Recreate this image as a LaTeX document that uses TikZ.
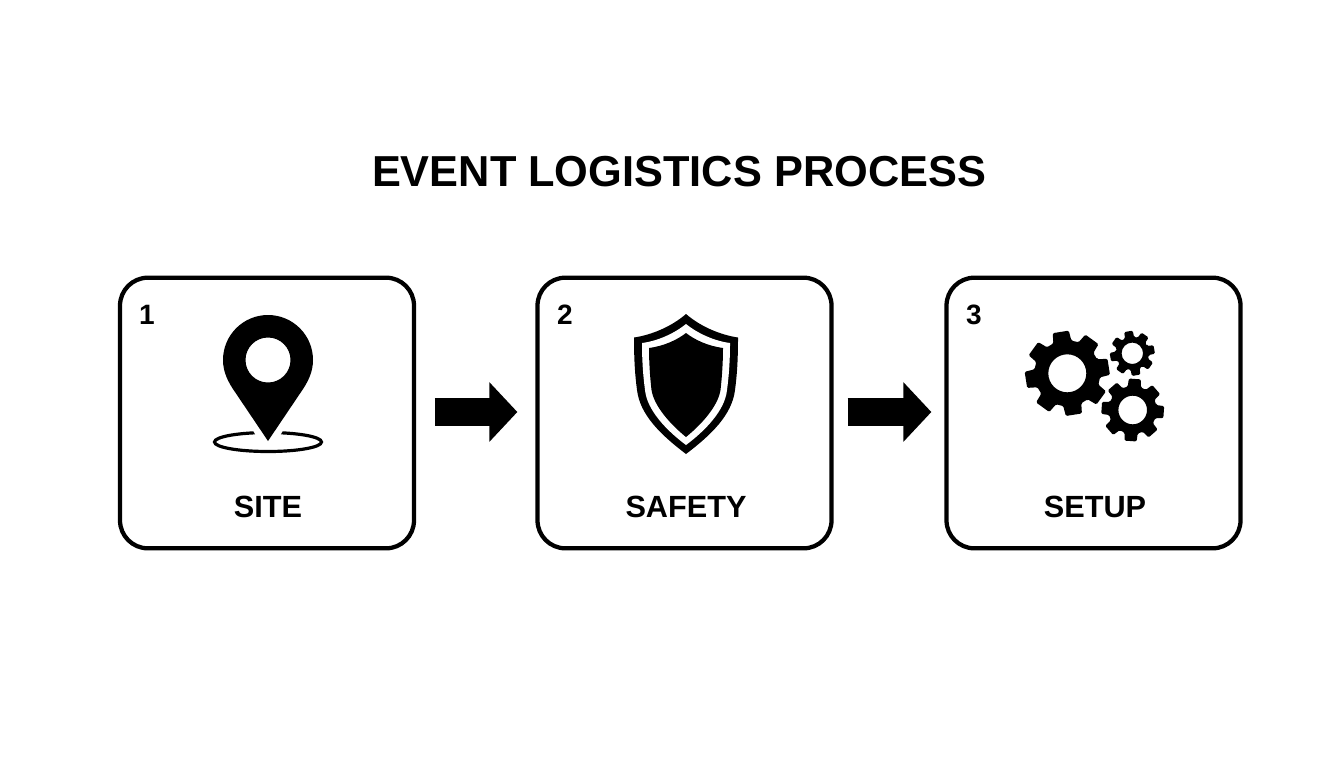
\documentclass[tikz,border=0pt]{standalone}
\usepackage{fontspec}
\setmainfont{Liberation Sans}
\usetikzlibrary{positioning,arrows.meta}
\tikzset{
  stepbox/.style={rectangle,draw,line width=3.2pt,rounded corners=21pt,inner sep=0pt,minimum width=220.5pt,minimum height=203pt},
  steplabel/.style={anchor=base,font=\bfseries\fontsize{23}{23}\selectfont},
  stepnum/.style={anchor=base,font=\bfseries\fontsize{21}{21}\selectfont},
  blockarrow/.style={-{Triangle[length=21pt,width=43.5pt]},line width=21pt}
}
\newcommand{\gearicon}[6]{%
  \begin{scope}[shift={(#1,#2)}]
    \fill[even odd rule,rounded corners=1pt] (#6-16:#4) foreach \a in {0,45,...,315} {
      -- (\a+#6-16:#4) -- (\a+#6-11:#3) -- (\a+#6+11:#3) -- (\a+#6+16:#4)
    } -- cycle (0,0) circle (#5);
  \end{scope}
}
\begin{document}
\begin{tikzpicture}[x=0.75pt,y=-0.75pt]
    \useasboundingbox (0,0) rectangle (1344,768);
    \node at (679, 186) [anchor=base,font=\bfseries\fontsize{32.5}{32.5}\selectfont] (title) {EVENT LOGISTICS PROCESS};

    \node at (267, 413) [stepbox] (site) {};
    \node at (684.5, 413) [stepbox] (safety) {};
    \node at (1093.5, 413) [stepbox] (setup) {};

    \node at (147, 324) [stepnum] (num1) {1};
    \node at (565, 324) [stepnum] (num2) {2};
    \node at (974, 324) [stepnum] (num3) {3};
    \node at (268, 517) [steplabel] (lab1) {SITE};
    \node at (686, 517) [steplabel] (lab2) {SAFETY};
    \node at (1095, 517) [steplabel] (lab3) {SETUP};

    \draw[blockarrow,shorten <=14pt,shorten >=13.5pt] ([yshift=.75pt]site.east) -- ([yshift=.75pt]safety.west);
    \draw[blockarrow,shorten <=10.5pt,shorten >=9.75pt] ([yshift=.75pt]safety.east) -- ([yshift=.75pt]setup.west);

    \draw[line width=2.4pt] (268,442) ellipse (53.5 and 9.5);
    \draw[white,line width=12pt] (268,441) -- (223,360);
    \draw[white,line width=12pt] (268,441) -- (313,360);
    \fill[even odd rule] (268,441) -- (235,392) .. controls (228,382) and (223,372) .. (223,360)
      arc[start angle=180,end angle=360,radius=45] .. controls (313,372) and (308,382) .. (301,392) -- cycle
      (268,360) circle (22.5);

    \fill (686,314) .. controls (701,327) and (721,335) .. (738,337.5) .. controls (738,360) and (737,375) .. (735,390)
      .. controls (732,415) and (711,435) .. (686,454) .. controls (661,435) and (640,415) .. (637,390)
      .. controls (635,375) and (634,360) .. (634,337.5) .. controls (651,335) and (671,327) .. (686,314) -- cycle;
    \fill[white] (686,324) .. controls (697,333) and (714,341) .. (730,343) .. controls (730,360) and (729,375) .. (727,390)
      .. controls (725,410) and (706,430) .. (686,445) .. controls (666,430) and (647,410) .. (645,390)
      .. controls (643,375) and (642,360) .. (642,343) .. controls (658,341) and (675,333) .. (686,324) -- cycle;
    \fill (686,333) .. controls (695,340) and (708,346) .. (723,348) .. controls (723,362) and (722,377) .. (720.5,390)
      .. controls (718,406) and (702,424) .. (686,437) .. controls (670,424) and (654,406) .. (651.5,390)
      .. controls (650,377) and (649,362) .. (649,348) .. controls (664,346) and (677,340) .. (686,333) -- cycle;

    \gearicon{1067.3}{373.3}{42.7}{33}{19}{-9}
    \gearicon{1132.3}{353.3}{22.7}{16.5}{10.7}{-10}
    \gearicon{1132.7}{410}{31.7}{24}{14.3}{4}
\end{tikzpicture}
\end{document}
